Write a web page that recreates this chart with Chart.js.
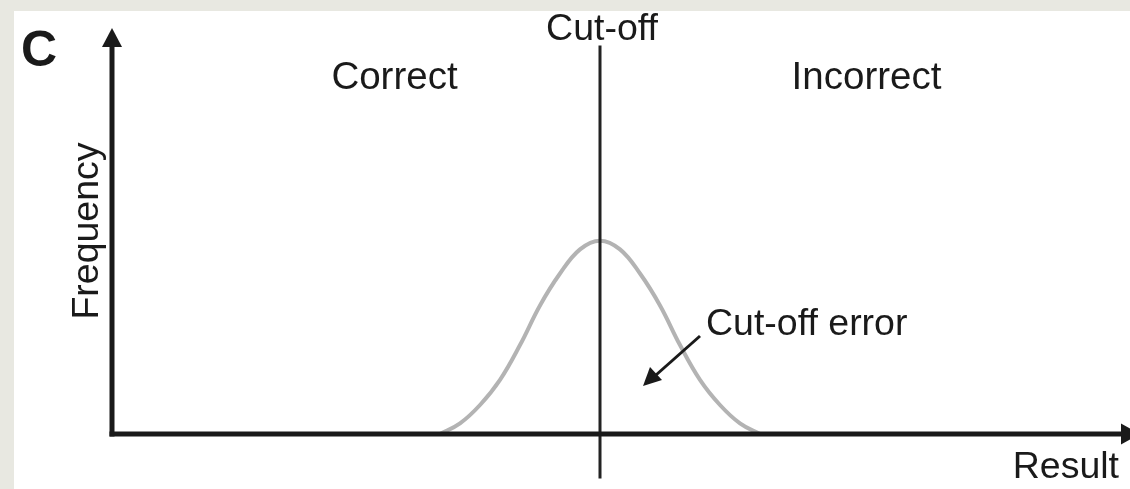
<!DOCTYPE html>
<html>
<head>
<meta charset="utf-8">
<script src="https://cdn.jsdelivr.net/npm/chart.js@4"></script>
<style>
  html, body { margin: 0; padding: 0; background: #e8e8e1; }
  #wrap { width: 1130px; height: 489px; position: relative; }
  canvas { display: block; }
</style>
</head>
<body>
<div id="wrap"><canvas id="c" width="1130" height="489"></canvas></div>
<script>
// Result values relative to the cut-off (arbitrary units)
const resultValues = [-1.6, -1.4, -1.2, -1.0, -0.8, -0.6, -0.4, -0.2, 0, 0.2, 0.4, 0.6, 0.8, 1.0, 1.2, 1.4, 1.6];
// Relative frequency
const frequencyValues = [0.0, 0.055, 0.15, 0.28, 0.46, 0.665, 0.83, 0.955, 1.0, 0.955, 0.83, 0.665, 0.46, 0.28, 0.15, 0.055, 0.0];
// Cut-off position and its vertical extent
const cutoffValue = 0;
const cutoffExtent = [-0.23, 2.01];
// Texts
const panelLetter = "C";
const cutoffLabel = "Cut-off";
const regionLabels = ["Correct", "Incorrect"];
const errorLabel = "Cut-off error";
const xAxisTitle = "Result";
const yAxisTitle = "Frequency";

const FONT = '"Liberation Sans", Arial, Helvetica, sans-serif';
const INK = '#1a1a1a';

const curvePoints = resultValues.map((x, i) => ({ x: x, y: frequencyValues[i] }));
const cutoffPoints = cutoffExtent.map(y => ({ x: cutoffValue, y: y }));

const bgPlugin = {
  id: 'bg',
  beforeDraw(chart) {
    const ctx = chart.ctx;
    ctx.save();
    ctx.fillStyle = '#e8e8e1';
    ctx.fillRect(0, 0, chart.width, chart.height);
    ctx.fillStyle = '#ffffff';
    ctx.fillRect(14, 11, chart.width - 14, chart.height - 11);
    ctx.restore();
  }
};

const axesPlugin = {
  id: 'axesArrows',
  afterDatasetsDraw(chart) {
    const ctx = chart.ctx;
    const a = chart.chartArea;
    const ys = chart.scales.y;
    const x0 = a.left, y0 = ys.getPixelForValue(0);
    ctx.save();
    ctx.strokeStyle = INK;
    ctx.fillStyle = INK;
    ctx.lineWidth = 5;
    ctx.lineCap = 'butt';
    // y axis
    ctx.beginPath();
    ctx.moveTo(x0, y0 + 2.5);
    ctx.lineTo(x0, a.top + 15);
    ctx.stroke();
    ctx.beginPath();
    ctx.moveTo(x0, a.top);
    ctx.lineTo(x0 - 10, a.top + 19);
    ctx.lineTo(x0 + 10, a.top + 19);
    ctx.closePath();
    ctx.fill();
    // x axis
    const xr = a.right + 10;
    ctx.beginPath();
    ctx.moveTo(x0 - 2.5, y0);
    ctx.lineTo(xr - 15, y0);
    ctx.stroke();
    ctx.beginPath();
    ctx.moveTo(xr, y0);
    ctx.lineTo(xr - 19, y0 - 10.5);
    ctx.lineTo(xr - 19, y0 + 10.5);
    ctx.closePath();
    ctx.fill();
    ctx.restore();
  },
  afterDraw(chart) {
    const ctx = chart.ctx;
    const xs = chart.scales.x;
    const cx = xs.getPixelForValue(cutoffValue);
    ctx.save();
    ctx.fillStyle = INK;
    ctx.textBaseline = 'alphabetic';
    // panel letter
    ctx.font = 'bold 50px ' + FONT;
    ctx.textAlign = 'left';
    ctx.fillText(panelLetter, 21, 66);
    // cut-off label
    ctx.font = '37.5px ' + FONT;
    ctx.textAlign = 'center';
    ctx.fillText(cutoffLabel, cx + 2, 40);
    // region labels
    ctx.font = '38.5px ' + FONT;
    ctx.fillText(regionLabels[0], xs.getPixelForValue(-2.055), 89);
    ctx.fillText(regionLabels[1], xs.getPixelForValue(2.665), 89);
    ctx.font = '37.5px ' + FONT;
    // error label
    ctx.textAlign = 'left';
    ctx.fillText(errorLabel, 706, 335);
    // x title
    ctx.textAlign = 'right';
    ctx.fillText(xAxisTitle, 1119, 478);
    // y title
    ctx.save();
    ctx.translate(98, 231);
    ctx.rotate(-Math.PI / 2);
    ctx.textAlign = 'center';
    ctx.fillText(yAxisTitle, 0, 0);
    ctx.restore();
    // error arrow
    ctx.strokeStyle = INK;
    ctx.lineWidth = 3;
    ctx.beginPath();
    ctx.moveTo(700, 336);
    ctx.lineTo(656, 375);
    ctx.stroke();
    ctx.beginPath();
    ctx.moveTo(643, 386);
    ctx.lineTo(650, 367);
    ctx.lineTo(662, 380);
    ctx.closePath();
    ctx.fill();
    ctx.restore();
  }
};

new Chart(document.getElementById('c'), {
  type: 'scatter',
  data: {
    datasets: [
      {
        label: 'Distribution',
        data: curvePoints,
        showLine: true,
        borderColor: '#b3b3b3',
        borderWidth: 4,
        pointRadius: 0,
        tension: 0.4,
        fill: false,
        order: 2
      },
      {
        label: 'Cut-off',
        data: cutoffPoints,
        showLine: true,
        borderColor: '#222222',
        borderWidth: 3,
        pointRadius: 0,
        clip: false,
        order: 1
      }
    ]
  },
  options: {
    responsive: false,
    devicePixelRatio: 1,
    animation: false,
    layout: { padding: { left: 112, right: 0, top: 28, bottom: 55 } },
    plugins: { legend: { display: false }, tooltip: { enabled: false } },
    scales: {
      x: { type: 'linear', min: -4.88, max: 5.30, display: false },
      y: { type: 'linear', min: 0, max: 2.1, display: false }
    }
  },
  plugins: [bgPlugin, axesPlugin]
});
</script>
</body>
</html>
